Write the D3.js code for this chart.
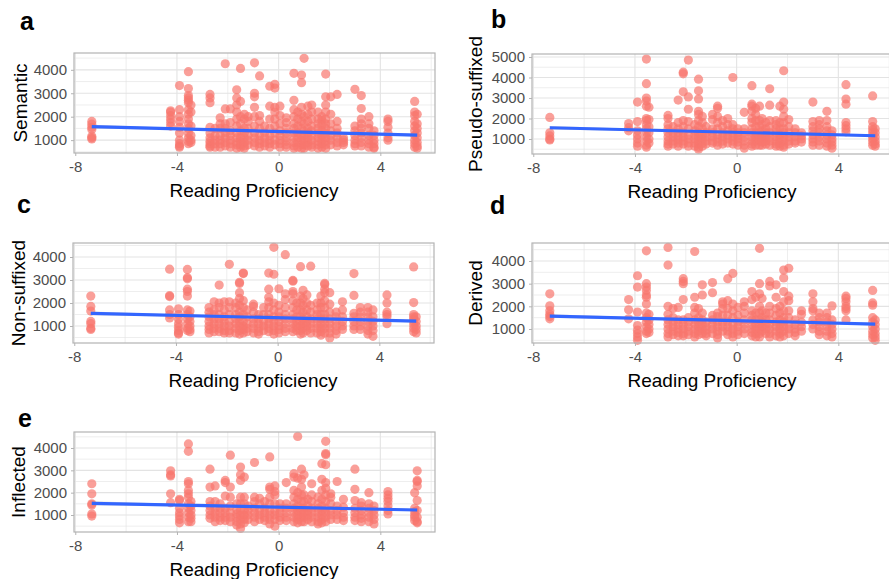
<!DOCTYPE html>
<html>
<head>
<meta charset="utf-8">
<script src="https://cdn.jsdelivr.net/npm/d3@7"></script>
<style>
  body { margin: 0; background: #fff; }
  text { font-family: "Liberation Sans", Arial, sans-serif; }
</style>
</head>
<body>
<div id="vis"></div>
<script>
// reading proficiency of each participant (one column of points each)
const proficiency = [-7.35, -4.25, -3.9, -3.55, -3.45, -2.7, -2.5, -2.3, -2.1, -1.9,
  -1.65, -1.5, -1.35, -1.2, -0.95, -0.75, -0.55, -0.35, -0.15, 0.05,
  0.3, 0.6, 0.75, 0.9, 1.0, 1.15, 1.3, 1.55, 1.7, 1.85,
  2.05, 2.3, 2.55, 3.0, 3.25, 3.55, 3.75, 4.3, 5.35, 5.45];

const panelLetters = ["a", "b", "c", "d", "e"];
const conditions = ["Semantic", "Pseudo-suffixed", "Non-suffixed", "Derived", "Inflected"];
const xTicks = [-8, -4, 0, 4];
const yTicksA = [1000, 2000, 3000, 4000];
const yTicksB = [1000, 2000, 3000, 4000, 5000];

// reaction times per participant
const semanticRT = [
  [1050, 1100, 1170, 1450, 1550, 1680, 1800],
  [1600, 1750, 1900, 2050, 2200, 2250],
  [3330, 2300, 2000, 1800, 1550, 1300, 1000, 850, 750, 700],
  [3920, 3200, 2900, 2800, 2700, 2600, 2300, 2100, 1900, 1700, 1500, 1300, 1100, 950, 850],
  [2500, 2200, 1600, 1200, 1000, 900],
  [2950, 2800, 2600, 1550, 1300, 1100, 950, 850, 750, 700],
  [1500, 1200, 1000, 850, 700],
  [1950, 1700, 1500, 1200, 1000, 850, 700],
  [4260, 2330, 1700, 1500, 1300, 1100, 900, 750],
  [2330, 1750, 1400, 1200, 1000, 850, 700],
  [3150, 2800, 2500, 2200, 1900, 1600, 1300, 1100, 900, 800, 650],
  [4060, 2650, 2000, 1700, 1400, 1100, 950, 800, 700],
  [2100, 1900, 1500, 1300, 1100, 900, 750, 650],
  [2000, 1800, 1500, 1200, 1000, 800],
  [4300, 3000, 2850, 2400, 2000, 1600, 1300, 1100, 900, 750],
  [3740, 2050, 1800, 1500, 1200, 1000, 850, 700],
  [1600, 1300, 1100, 900, 750],
  [3300, 2450, 1900, 1500, 1200, 1000, 850, 700],
  [3380, 3220, 2400, 2200, 1900, 1600, 1300, 1000, 800],
  [2450, 2050, 1700, 1400, 1200, 1000, 850, 700],
  [1950, 1750, 1500, 1300, 1100, 950, 800, 700],
  [3850, 2700, 2300, 2000, 1700, 1500, 1300, 1100, 900, 750, 650],
  [2200, 1900, 1600, 1300, 1100, 900, 700],
  [3780, 3450, 2400, 2100, 1800, 1500, 1200, 1000, 800, 650],
  [4490, 2000, 1700, 1400, 1200, 1000, 800, 650],
  [2450, 2100, 1800, 1500, 1300, 1100, 900, 750],
  [2500, 2200, 1900, 1600, 1400, 1200, 1000, 800, 700],
  [2200, 1900, 1700, 1500, 1300, 1100, 950, 800, 650],
  [2000, 1850, 1650, 1400, 1200, 1000, 850, 700],
  [3820, 2850, 2500, 2200, 1900, 1700, 1500, 1300, 1100, 950, 800, 650],
  [2850, 2100, 1700, 1400, 1200, 1000, 800],
  [2950, 1800, 1500, 1300, 1100, 900, 750],
  [1100, 1000, 900, 800],
  [3170, 1600, 1400, 1200, 1000, 850, 750],
  [2900, 2350, 1900, 1700, 1500, 1300, 1100, 900, 750],
  [2000, 1700, 1500, 1200, 1000, 850, 700],
  [1400, 1200, 1000, 850, 700, 650],
  [1900, 1800, 1550, 1300, 1100, 1000],
  [2650, 2200, 2050, 1800, 1600, 1400, 1200, 1000, 850, 700],
  [2100, 1700, 1500, 1300, 1100, 900, 750, 650]
];

const pseudoRT = [
  [2050, 1300, 1150, 1000, 950],
  [1750, 1550, 1400],
  [2800, 1850, 1400, 1200, 1000, 800, 650],
  [4900, 3700, 3000, 2850, 2600, 2000, 1900, 1700, 1500, 1300, 1100, 900, 700, 600],
  [2550, 1950, 1600, 1300, 1000, 800],
  [2150, 2000, 1700, 1500, 1300, 1100, 900, 750, 650],
  [1600, 1300, 1100, 900, 750],
  [2900, 1800, 1500, 1300, 1100, 950, 800, 650],
  [4260, 4180, 3300, 1900, 1600, 1300, 1100, 900, 750],
  [4850, 3050, 2450, 1850, 1500, 1200, 1000, 800, 650],
  [1700, 1400, 1200, 1000, 800, 650],
  [3920, 3350, 2950, 2350, 2200, 1900, 1600, 1300, 1100, 900, 750, 600, 500],
  [2100, 1800, 1500, 1200, 1000, 800, 650],
  [1600, 1300, 1100, 900, 750],
  [2200, 1950, 1500, 1300, 1100, 900, 800],
  [2600, 2500, 2100, 1800, 1500, 1200, 1000, 850, 700],
  [1900, 1600, 1300, 1100, 900, 750],
  [2000, 1700, 1400, 1200, 1000, 800],
  [4000, 1700, 1500, 1300, 1100, 900, 750],
  [1500, 1300, 1150, 1000, 850, 700],
  [2300, 1500, 1300, 1100, 900, 700, 550],
  [3600, 2700, 2600, 2350, 2000, 1800, 1500, 1300, 1100, 900, 750, 650],
  [2500, 2200, 1900, 1600, 1300, 1100, 900, 700],
  [2600, 1900, 1600, 1300, 1100, 900, 700],
  [2000, 1700, 1400, 1200, 1000, 850, 700],
  [1800, 1500, 1300, 1100, 900, 750],
  [3450, 2650, 1900, 1600, 1300, 1100, 900, 700],
  [1900, 1700, 1500, 1300, 1100, 900, 750, 650],
  [2600, 1800, 1500, 1200, 1000, 800, 650],
  [4330, 2800, 2450, 2100, 1800, 1500, 1300, 1100, 900, 700, 600],
  [1950, 1600, 1300, 1100, 900, 750],
  [1500, 1300, 1100, 900, 800],
  [1300, 1150, 1000, 850],
  [2800, 1850, 1600, 1400, 1200, 1000, 850, 700],
  [1900, 1700, 1500, 1300, 1100, 900, 700],
  [2350, 1900, 1600, 1400, 1200, 1000, 800, 650],
  [1400, 1200, 1000, 850, 700, 550],
  [3650, 2950, 2700, 1800, 1650, 1500, 1350],
  [3100, 1850, 1600, 1450, 1300, 1150, 1000, 850, 700],
  [1500, 1300, 1100, 900, 750, 650]
];

const nonSuffixedRT = [
  [2300, 1850, 1650, 1200, 1100, 900, 850],
  [3470, 2320, 2280, 1700, 1500, 1350],
  [1750, 1500, 1300, 1100, 950, 800, 700, 650],
  [3460, 3100, 3050, 2600, 2500, 2300, 1700, 1500, 1300, 1100, 900, 800],
  [1650, 1400, 1200, 1000, 850, 750],
  [1800, 1600, 1400, 1200, 1000, 850, 700],
  [2050, 1700, 1500, 1300, 1100, 900, 750],
  [2780, 2000, 1800, 1500, 1300, 1100, 900, 750],
  [2050, 1700, 1400, 1200, 1000, 800, 700],
  [3680, 2050, 1800, 1500, 1200, 1000, 800, 700],
  [2000, 1800, 1500, 1300, 1100, 900, 700],
  [2900, 2850, 2450, 2200, 1900, 1600, 1400, 1200, 1000, 800, 650],
  [3300, 3280, 2100, 1800, 1500, 1200, 1000, 850, 700],
  [1700, 1400, 1100, 900, 750],
  [1950, 1850, 1600, 1300, 1100, 900, 700],
  [1500, 1300, 1100, 900, 750, 650],
  [1800, 1500, 1200, 1000, 800],
  [3300, 2600, 2250, 2050, 1800, 1500, 1300, 1100, 900, 750],
  [4420, 3250, 2000, 1700, 1400, 1200, 1000, 800, 650],
  [2620, 1900, 1600, 1400, 1200, 1000, 850, 700],
  [4100, 2400, 2150, 1800, 1500, 1300, 1100, 900, 750],
  [2980, 2950, 2500, 2400, 2100, 1800, 1500, 1300, 1100, 900, 750],
  [2000, 1700, 1400, 1200, 1000, 800],
  [3580, 2300, 2000, 1700, 1400, 1200, 1000, 800, 650],
  [2550, 2200, 1900, 1600, 1300, 1100, 900, 700],
  [2350, 2000, 1700, 1400, 1200, 1000, 800],
  [3600, 1900, 1600, 1300, 1100, 900, 700],
  [2000, 1700, 1500, 1300, 1100, 900, 700],
  [2300, 2000, 1800, 1500, 1300, 1100, 900, 750, 600],
  [2850, 2800, 2600, 2450, 2100, 1800, 1500, 1300, 1100, 900, 700],
  [2450, 1950, 1600, 1300, 1100, 900, 700, 480],
  [1600, 1400, 1200, 1000, 800, 650],
  [2050, 1700, 1400, 1200, 1000, 850],
  [3280, 2330, 1550, 1400, 1200, 1000, 850],
  [1800, 1600, 1400, 1200, 1000, 850],
  [1800, 1600, 1400, 1200, 1000, 800, 650],
  [1700, 1400, 1200, 1000, 800, 550],
  [2350, 2000, 1600, 1500, 1400, 1100],
  [3570, 2020, 1500, 1400, 1300, 1200, 1050, 900, 750],
  [1400, 1200, 1000, 850, 700]
];

const derivedRT = [
  [2550, 2020, 1800, 1650, 1550, 1450],
  [2300, 1850, 1450],
  [3350, 2850, 1750, 1150, 950, 800, 650, 500],
  [4450, 3000, 2850, 2700, 2500, 2400, 2100, 1700, 1500, 1300, 1100, 900, 800],
  [1650, 1400, 1200, 1000, 850],
  [4600, 3820, 2000, 1650, 1400, 1200, 1000, 800, 650],
  [1900, 1500, 1300, 1100, 900, 750],
  [1950, 1400, 1200, 1000, 850, 700],
  [3220, 3100, 3000, 2300, 1400, 1200, 1000, 800, 700],
  [1500, 1300, 1100, 900, 750],
  [4420, 2400, 1950, 1700, 1400, 1200, 1000, 800, 650],
  [1900, 1500, 1300, 1100, 900, 750],
  [2950, 2500, 1700, 1400, 1200, 1000, 800],
  [1300, 1100, 950, 800, 700],
  [3050, 2600, 1600, 1400, 1200, 1000, 800],
  [1700, 1550, 1300, 1100, 900, 750, 600],
  [2200, 2100, 1900, 1600, 1300, 1100, 900],
  [3220, 2250, 1900, 1600, 1300, 1100, 900, 750],
  [3450, 2100, 1800, 1500, 1200, 1000, 800, 650],
  [1950, 1600, 1300, 1100, 900, 750],
  [2200, 2000, 1700, 1400, 1200, 1000, 800],
  [2650, 2300, 1800, 1600, 1400, 1200, 1000, 850, 700],
  [2400, 1700, 1400, 1200, 1000, 800, 650],
  [4560, 3000, 2550, 2000, 1700, 1400, 1200, 1000, 800, 650],
  [2350, 1800, 1500, 1300, 1100, 900],
  [1700, 1400, 1200, 1000, 800],
  [3100, 2900, 2000, 1700, 1400, 1200, 1000, 800, 650],
  [2950, 2400, 1900, 1600, 1300, 1100, 900, 700],
  [2000, 1700, 1400, 1200, 1000, 800, 650],
  [3600, 3250, 2650, 2200, 1800, 1500, 1300, 1100, 900, 700],
  [3680, 2450, 2250, 1800, 1500, 1200, 1000, 800],
  [1400, 1200, 1000, 850, 700],
  [1800, 1650, 1300, 1100, 900],
  [2550, 2200, 1900, 1800, 1400, 1200, 1000],
  [1700, 1500, 1300, 1100, 900, 750],
  [1700, 1500, 1300, 1100, 900, 700],
  [2020, 1400, 1200, 1000, 800, 650],
  [2450, 2350, 2200, 2000, 1900, 1800, 1400],
  [2700, 2150, 2050, 1500, 1300, 1100, 900, 750, 600],
  [1400, 1200, 1000, 800, 650, 500]
];

const inflectedRT = [
  [2400, 1950, 1500, 1450, 1050, 950],
  [2980, 2800, 2750, 1950, 1550],
  [1700, 1650, 1300, 1100, 950, 800, 650],
  [4180, 3850, 2500, 2400, 2100, 1950, 1800, 1500, 1300, 1100, 900, 700],
  [1600, 1400, 1200, 1000, 850, 700],
  [3050, 2250, 1600, 1400, 1200, 1000, 850],
  [2300, 1600, 1300, 1100, 900, 700],
  [1500, 1300, 1100, 900, 750],
  [2550, 2450, 1850, 1300, 1100, 900, 750],
  [3680, 2250, 1800, 1400, 1100, 900, 700],
  [1500, 1250, 1050, 900, 700, 550],
  [3150, 2800, 2550, 1800, 1500, 1200, 1000, 800, 600, 400],
  [2700, 1800, 1500, 1200, 1000, 800, 650],
  [1400, 1200, 1000, 800],
  [3350, 1800, 1600, 1300, 1100, 900, 700],
  [1750, 1500, 1200, 1000, 800],
  [1600, 1300, 1100, 900, 750],
  [3600, 2250, 2150, 1800, 1500, 1200, 1000, 800, 600],
  [2300, 2050, 1900, 1500, 1200, 1000, 800, 500],
  [1500, 1300, 1100, 900, 750],
  [2450, 1500, 1300, 1100, 900, 750],
  [2850, 2700, 2100, 1800, 1500, 1300, 1100, 900, 700],
  [4520, 2650, 2000, 1700, 1400, 1200, 1000, 800, 650],
  [3050, 2600, 2250, 1900, 1600, 1300, 1100, 900, 700],
  [2800, 1900, 1600, 1300, 1100, 900, 700],
  [1700, 1400, 1200, 1000, 800],
  [2400, 1900, 1600, 1300, 1100, 900, 700],
  [1800, 1500, 1300, 1100, 900, 700, 600],
  [3300, 2600, 2100, 1700, 1400, 1200, 1000, 800, 650],
  [4300, 3750, 3700, 3250, 2450, 2200, 1900, 1600, 1300, 1100, 900, 700],
  [1950, 1800, 1500, 1200, 1000, 800],
  [2500, 1400, 1200, 1000, 800],
  [1700, 1350, 1100, 900, 750],
  [3050, 2150, 1650, 1300, 1100, 900, 750],
  [1550, 1400, 1200, 1000, 850, 700],
  [2000, 1500, 1300, 1100, 900, 700],
  [1400, 1200, 1000, 800, 600],
  [2050, 1900, 1750, 1600, 1400, 1200, 1050],
  [2000, 1300, 1150, 1000, 900, 750],
  [2980, 2550, 2500, 2300, 1650, 1200, 900, 700, 650]
];

// linear fit (RT = intercept + slope * proficiency)
const fitIntercept = [1367, 1325, 1358, 1369, 1351];
const fitSlope = [-28.8, -30.5, -26.2, -27.6, -23.4];
// half width of the grey confidence band at left end, centre, right end
const bandHalf = [[80, 30, 60], [80, 30, 60], [80, 30, 60], [80, 30, 60], [90, 30, 60]];

const allRT = [semanticRT, pseudoRT, nonSuffixedRT, derivedRT, inflectedRT];
const yDomains = [[451, 4718], [268, 5146], [261, 4609], [382, 4794], [239, 4716]];
const yTickSets = [yTicksA, yTicksB, yTicksA, yTicksA, yTicksA];

// panel boxes in pixels
const layout = [
  { left: 74, top: 53, letterX: 20, letterY: 30, titleX: 20 },
  { left: 532, top: 54, letterX: 491, letterY: 28, titleX: 475 },
  { left: 73, top: 243, letterX: 17, letterY: 213, titleX: 18 },
  { left: 532, top: 243, letterX: 490, letterY: 214, titleX: 475 },
  { left: 74, top: 432, letterX: 18, letterY: 427, titleX: 18 }
];
const panelW = 361;
const panelH = 100;

const pointColor = "#F8766D";
const lineColor = "#3366FF";
const gridColor = "#E3E3E3";
const borderColor = "#B3B3B3";
const tickText = "#4D4D4D";

var svg = d3
  .select("#vis")
  .append("svg")
  .attr("width", 889)
  .attr("height", 579);

svg.append("rect").attr("width", 889).attr("height", 579).attr("fill", "white");

for (let i = 0; i < 5; i++) {
  drawPanel(i);
}

function drawPanel(i) {
  const L = layout[i];
  const g = svg.append("g").attr("transform", `translate(${L.left},${L.top})`);

  const x = d3.scaleLinear().domain([-8.05, 6.15]).range([0, panelW]);
  const y = d3.scaleLinear().domain(yDomains[i]).range([panelH, 0]);

  // minor grid
  const xMinor = [-6, -2, 2, 6].filter((v) => v > x.domain()[0] && v < x.domain()[1]);
  const yMinor = d3.range(500, 5600, 1000).filter((v) => v > y.domain()[0] && v < y.domain()[1]);
  g.selectAll(".xminor")
    .data(xMinor)
    .join("line")
    .attr("x1", (d) => x(d))
    .attr("x2", (d) => x(d))
    .attr("y1", 0)
    .attr("y2", panelH)
    .attr("stroke", gridColor)
    .attr("stroke-width", 0.6);
  g.selectAll(".yminor")
    .data(yMinor)
    .join("line")
    .attr("x1", 0)
    .attr("x2", panelW)
    .attr("y1", (d) => y(d))
    .attr("y2", (d) => y(d))
    .attr("stroke", gridColor)
    .attr("stroke-width", 0.6);

  // major grid
  g.append("g")
    .selectAll("line")
    .data(xTicks)
    .join("line")
    .attr("x1", (d) => x(d))
    .attr("x2", (d) => x(d))
    .attr("y1", 0)
    .attr("y2", panelH)
    .attr("stroke", gridColor)
    .attr("stroke-width", 1.1);
  g.append("g")
    .selectAll("line")
    .data(yTickSets[i])
    .join("line")
    .attr("x1", 0)
    .attr("x2", panelW)
    .attr("y1", (d) => y(d))
    .attr("y2", (d) => y(d))
    .attr("stroke", gridColor)
    .attr("stroke-width", 1.1);

  // points
  const pts = [];
  allRT[i].forEach((col, j) => col.forEach((v) => pts.push({ x: proficiency[j], y: v })));
  g.append("g")
    .selectAll("circle")
    .data(pts)
    .join("circle")
    .attr("cx", (d) => x(d.x))
    .attr("cy", (d) => y(d.y))
    .attr("r", 4.6)
    .attr("fill", pointColor)
    .attr("opacity", 0.7);

  // fit + band
  const xs = [d3.min(proficiency), 0, d3.max(proficiency)];
  const fit = (v) => fitIntercept[i] + fitSlope[i] * v;
  const band = xs.map((v, k) => ({ x: v, lo: fit(v) - bandHalf[i][k], hi: fit(v) + bandHalf[i][k] }));
  g.append("path")
    .datum(band)
    .attr("fill", "#999999")
    .attr("opacity", 0.35)
    .attr(
      "d",
      d3
        .area()
        .curve(d3.curveMonotoneX)
        .x((d) => x(d.x))
        .y0((d) => y(d.lo))
        .y1((d) => y(d.hi))
    );
  g.append("line")
    .attr("x1", x(xs[0]))
    .attr("x2", x(xs[2]))
    .attr("y1", y(fit(xs[0])))
    .attr("y2", y(fit(xs[2])))
    .attr("stroke", lineColor)
    .attr("stroke-width", 3.2);

  // border
  g.append("rect")
    .attr("width", panelW)
    .attr("height", panelH)
    .attr("fill", "none")
    .attr("stroke", borderColor)
    .attr("stroke-width", 1.2);

  // axes (plain hyphen for negatives, as in the original)
  const xAxis = g
    .append("g")
    .attr("transform", `translate(0,${panelH})`)
    .call(d3.axisBottom(x).tickValues(xTicks).tickSize(3).tickPadding(5).tickFormat((d) => String(d)));
  const yAxis = g
    .append("g")
    .call(d3.axisLeft(y).tickValues(yTickSets[i]).tickSize(3).tickPadding(4).tickFormat((d) => String(d)));
  [xAxis, yAxis].forEach((a) => {
    a.select(".domain").remove();
    a.selectAll(".tick line").attr("stroke", borderColor);
    a.selectAll("text")
      .attr("fill", tickText)
      .attr("font-size", 15)
      .attr("font-family", "Liberation Sans, Arial, sans-serif");
  });

  // titles
  svg.append("text")
    .attr("x", L.left + 180)
    .attr("y", L.top + panelH + 44)
    .attr("text-anchor", "middle")
    .attr("font-size", 19)
    .attr("fill", "black")
    .text("Reading Proficiency");

  svg.append("text")
    .attr("transform", `translate(${L.titleX + 7},${L.top + panelH / 2}) rotate(-90)`)
    .attr("text-anchor", "middle")
    .attr("font-size", 19)
    .attr("fill", "black")
    .text(conditions[i]);

  svg.append("text")
    .attr("x", L.letterX)
    .attr("y", L.letterY)
    .attr("font-size", 25)
    .attr("font-weight", "bold")
    .attr("fill", "black")
    .text(panelLetters[i]);
}
</script>
</body>
</html>
